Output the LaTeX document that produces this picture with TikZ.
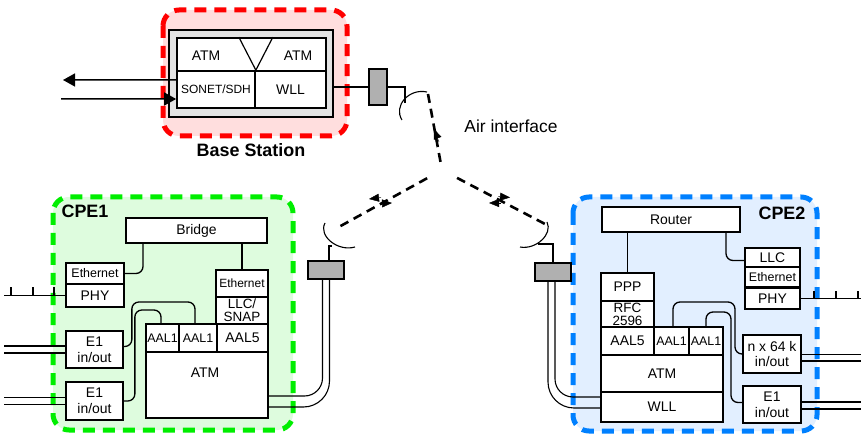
\documentclass[tikz,border=0pt]{standalone}
\usepackage{fontspec}
\setmainfont{Liberation Sans}
\usetikzlibrary{arrows.meta}

\definecolor{bsred}{RGB}{255,0,0}
\definecolor{bspink}{RGB}{255,222,222}
\definecolor{cpegreen}{RGB}{0,238,0}
\definecolor{cpegreenbg}{RGB}{222,252,222}
\definecolor{cpeblue}{RGB}{0,128,255}
\definecolor{cpebluebg}{RGB}{226,239,255}
\definecolor{antgray}{RGB}{176,176,176}

\tikzset{
  region/.style={line width=5bp,dash pattern=on 12bp off 8bp,rounded corners=16bp},
  blk/.style={draw,line width=1.7bp,fill=white,inner sep=0pt,align=center,font=\fontsize{14}{14}\selectfont},
  txt/.style={inner sep=0pt,font=\fontsize{14}{14}\selectfont},
  ant/.style={draw,line width=1.8bp,fill=antgray,inner sep=0pt},
  wire/.style={line width=1.3bp,rounded corners=7bp},
  feed/.style={line width=1.1bp},
  dish/.style={line width=1.1bp},
  air/.style={line width=2.6bp,dash pattern=on 9bp off 6bp},
  airtip/.style={-{Triangle[length=10bp,width=8bp]},line width=0.4bp},
  bigarrow/.style={-{Triangle[length=12bp,width=13bp]},line width=1.5bp}
}

\begin{document}
\begin{tikzpicture}[x=1bp,y=-1bp]
\useasboundingbox (0,0) rectangle (861,434);

% regions
\draw[region,draw=bsred,fill=bspink] (163,10) rectangle (347,136);
\draw[region,draw=cpegreen,fill=cpegreenbg] (53,197) rectangle (293,430);
\draw[region,draw=cpeblue,fill=cpebluebg] (573,197) rectangle (817,431);

% base station
\node[blk,fill=gray!22,minimum width=164bp,minimum height=87bp] (bsframe) at (251,73.5) {};
\node[blk,minimum width=149bp,minimum height=33bp] (bsatm) at (251.5,54.5) {};
\node[blk,minimum width=78bp,minimum height=37bp,font=\fontsize{12}{12}\selectfont] (bssonet) at (216,89.5) {SONET/SDH};
\node[blk,minimum width=71bp,minimum height=37bp] (bswll) at (290.5,89.5) {WLL};
\node[txt] (bsatml) at (206,56) {ATM};
\node[txt] (bsatmr) at (298,56) {ATM};
\draw[line width=1.2bp] (bssonet.north east) ++(-17,-33) -- (bssonet.north east) -- ++(17,-33);
\node[font=\fontsize{18}{18}\selectfont\bfseries] (bslabel) at (251,150) {Base Station};

\coordinate (bsout) at (63,80);
\coordinate (bsin) at (61,99);
\draw[bigarrow] ([yshift=9.5bp]bssonet.west) -- (bsout);
\draw[bigarrow] (bsin) -- ([yshift=-9.5bp]bssonet.west);

% base station antenna
\node[ant,minimum width=18bp,minimum height=36bp] (bsant) at (378,87) {};
\coordinate (bsdish) at (405,103);
\draw[line width=1.2bp] (bsframe.east |- bsant) -- (bsant);
\draw[line width=1.2bp] (bsant.east) -| (bsdish);
\draw[dish] (402,120) .. controls (393,106) and (409,88) .. (427,92);

% air interface
\coordinate (hub) at (442,170);
\coordinate (bsfoc) at (428,94);
\coordinate (c1foc) at (337,228);
\coordinate (c2foc) at (545,224);
\draw[air,shorten >=5bp] (bsfoc) -- (hub);
\draw[air,shorten <=17bp] (hub) -- (c1foc);
\draw[air,shorten <=17bp] (hub) -- (c2foc);
\draw[airtip] (439,142) -- (434,129);
\draw[airtip] (381,197.5) -- (369,199);
\draw[airtip] (380,203.5) -- (392,203);
\draw[airtip] (498,196.5) -- (510,197.5);
\draw[airtip] (501,203) -- (489,203);
\node[txt,font=\fontsize{17.5}{17.5}\selectfont] (airlabel) at (511,126) {Air interface};

% CPE1
\node[font=\fontsize{18}{18}\selectfont\bfseries] (cpe1label) at (85,211) {CPE1};
\node[blk,minimum width=141bp,minimum height=25bp] (bridge) at (196.5,230.5) {Bridge};
\node[blk,minimum width=58bp,minimum height=21bp,font=\fontsize{12.5}{12.5}\selectfont] (c1eth) at (95,273.5) {Ethernet};
\node[blk,minimum width=58bp,minimum height=23bp] (c1phy) at (95,295.5) {PHY};
\node[blk,minimum width=52bp,minimum height=27bp,font=\fontsize{12}{12}\selectfont] (c1eth2) at (242,283.5) {Ethernet};
\node[blk,minimum width=52bp,minimum height=27bp,font=\fontsize{13.5}{13}\selectfont] (c1llc) at (242,310.5) {LLC/\\SNAP};
\node[blk,minimum width=33bp,minimum height=28bp,font=\fontsize{12.5}{12.5}\selectfont] (c1aal1a) at (162.5,338) {AAL1};
\node[blk,minimum width=38bp,minimum height=28bp,font=\fontsize{12.5}{12.5}\selectfont] (c1aal1b) at (198,338) {AAL1};
\node[blk,minimum width=51bp,minimum height=28bp] (c1aal5) at (242.5,338) {AAL5};
\node[blk,minimum width=122bp,minimum height=66bp] (c1atm) at (207,385) {};
\node[txt] (c1atml) at (205,373) {ATM};
\node[blk,minimum width=57bp,minimum height=37bp,font=\fontsize{14}{16}\selectfont] (c1e1a) at (94.5,349.5) {E1\\in/out};
\node[blk,minimum width=57bp,minimum height=38bp,font=\fontsize{14}{16}\selectfont] (c1e1b) at (94.5,401) {E1\\in/out};

\draw[wire] (c1eth.east) -| ([xshift=-53.5bp]bridge.south);
\draw[wire] (bridge.south -| c1eth2) -- (c1eth2.north);
\draw[wire] ([yshift=3bp]c1e1a.east) -- ++(8,0) |- (195,302) -- ([xshift=-3bp]c1aal1b.north);
\draw[wire] (c1e1b.east) -- ++(11,0) |- (161,310) -- ([xshift=-1.5bp]c1aal1a.north);
\draw[wire] (c1phy.west) -- ++(-61,0);
\draw[wire] (11,295.5) -- ++(0,-8);
\draw[wire] (33,295.5) -- ++(0,-8);
\draw[wire] (54,295.5) -- ++(0,-8);
\draw[wire] ([yshift=3.5bp]c1e1a.west) -- ++(-61,0);
\draw[wire] ([yshift=-3.5bp]c1e1a.west) -- ++(-61,0);
\draw[wire] ([yshift=3.5bp]c1e1b.west) -- ++(-61,0);
\draw[wire] ([yshift=-3.5bp]c1e1b.west) -- ++(-61,0);

% CPE1 antenna
\node[ant,minimum width=36bp,minimum height=18bp] (c1ant) at (326,270) {};
\coordinate (c1dish) at (332,246);
\draw[line width=1.2bp] ([xshift=3bp]c1ant.north) |- (c1dish);
\draw[dish] (325,223) .. controls (318,236) and (338,252) .. (355,247);
\draw[feed,rounded corners=18bp] ([xshift=-3.5bp]c1ant.south) |- ([yshift=-11bp]c1atm.east);
\draw[feed,rounded corners=26bp] ([xshift=3.5bp]c1ant.south) |- ([yshift=-22bp]c1atm.east);

% CPE2
\node[font=\fontsize{18}{18}\selectfont\bfseries] (cpe2label) at (782,213) {CPE2};
\node[blk,minimum width=138bp,minimum height=25bp] (router) at (671,219.5) {Router};
\node[blk,minimum width=53bp,minimum height=28bp] (c2ppp) at (627.5,287) {PPP};
\node[blk,minimum width=53bp,minimum height=26bp,font=\fontsize{13.5}{13}\selectfont] (c2rfc) at (627.5,314) {RFC\\2596};
\node[blk,minimum width=53bp,minimum height=28bp] (c2aal5) at (627.5,341) {AAL5};
\node[blk,minimum width=35bp,minimum height=28bp,font=\fontsize{12.5}{12.5}\selectfont] (c2aal1a) at (671.5,341) {AAL1};
\node[blk,minimum width=34bp,minimum height=28bp,font=\fontsize{12.5}{12.5}\selectfont] (c2aal1b) at (706,341) {AAL1};
\node[blk,minimum width=122bp,minimum height=37bp] (c2atm) at (662,373.5) {ATM};
\node[blk,minimum width=122bp,minimum height=30bp] (c2wll) at (662,407) {WLL};
\node[blk,minimum width=55bp,minimum height=19bp] (c2llc) at (772.5,257.5) {LLC};
\node[blk,minimum width=55bp,minimum height=20bp,font=\fontsize{12.5}{12.5}\selectfont] (c2eth) at (772.5,277) {Ethernet};
\node[blk,minimum width=55bp,minimum height=21bp] (c2phy) at (772.5,298.5) {PHY};
\node[blk,minimum width=58bp,minimum height=38bp,font=\fontsize{14}{16}\selectfont] (c2nx64) at (772,354) {n x 64 k\\in/out};
\node[blk,minimum width=58bp,minimum height=37bp,font=\fontsize{14}{16}\selectfont] (c2e1) at (772,404.5) {E1\\in/out};

\draw[wire] (router.south -| c2ppp) -- (c2ppp.north);
\draw[wire] ([xshift=55bp]router.south) |- ([yshift=-3bp]c2llc.west);
\draw[wire] ([xshift=1.5bp]c2aal1a.north) |- (735,302) |- (c2nx64.west);
\draw[wire] (c2aal1b.north) |- (731,312) |- ([yshift=2bp]c2e1.west);
\draw[wire] (c2phy.east) -- ++(61,0);
\draw[wire] (814,298.5) -- ++(0,-7);
\draw[wire] (836,298.5) -- ++(0,-7);
\draw[wire] (858,298.5) -- ++(0,-7);
\draw[wire] ([yshift=-0.5bp]c2nx64.east) -- ++(60,0);
\draw[wire] ([yshift=-7bp]c2nx64.east) -- ++(60,0);
\draw[wire] ([yshift=2.5bp]c2e1.east) -- ++(60,0);
\draw[wire] ([yshift=-4.5bp]c2e1.east) -- ++(60,0);

% CPE2 antenna
\node[ant,minimum width=36bp,minimum height=18bp] (c2ant) at (553,272) {};
\coordinate (c2dish) at (538,244);
\draw[line width=1.2bp] (c2ant.north) |- (c2dish);
\draw[dish] (547,222) .. controls (553,234) and (536,250) .. (520,247);
\draw[feed,rounded corners=26bp] ([xshift=-5bp]c2ant.south) |- ([yshift=-1bp]c2wll.west);
\draw[feed,rounded corners=18bp] ([xshift=2bp]c2ant.south) |- ([yshift=10bp]c2wll.west);
\end{tikzpicture}
\end{document}
